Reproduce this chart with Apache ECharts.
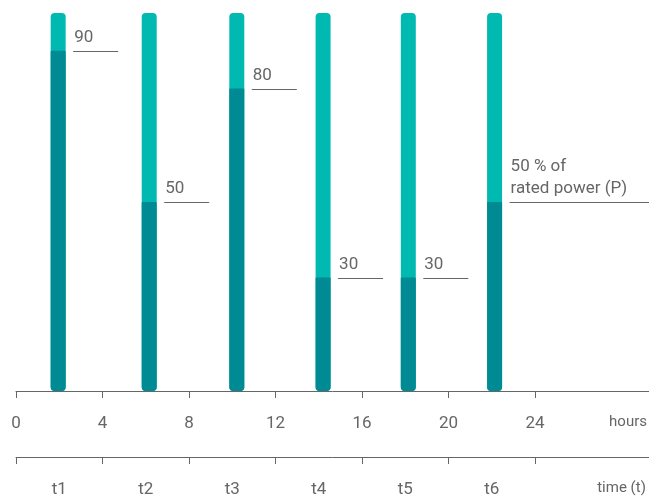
<!DOCTYPE html>
<html>
<head>
<meta charset="utf-8">
<script src="https://cdn.jsdelivr.net/npm/echarts@6/dist/echarts.min.js"></script>
<style>html,body{margin:0;padding:0;background:#fff;}#c{width:649px;height:496px;}</style>
</head>
<body>
<div id="c"></div>
<script>
// Data
const barHours = [1.95, 6.16, 10.21, 14.2, 18.14, 22.13];
const powerValues = [90, 50, 80, 30, 30, 50];
const ratedValue = 100;
const annotationTexts = ['90', '50', '80', '30', '30', '50 % of\nrated power (P)'];
const hourTicks = [0, 4, 8, 12, 16, 20, 24];
const periodLabels = ['t1', 't2', 't3', 't4', 't5', 't6'];
const periodCenters = [2, 6, 10, 14, 18, 22];
const hoursUnitPos = 28.3;
const timeUnitPos = 28.0;

const FONT = 'Roboto, "Noto Sans", sans-serif';
const LIGHT = '#00b9b0';
const DARK = '#008a93';
const GRAY = '#666666';

const chart = echarts.init(document.getElementById('c'), null, {renderer: 'canvas'});

const annData = barHours.map((h, i) => [h, powerValues[i], annotationTexts[i], i === barHours.length - 1 ? 1 : 0]);

chart.setOption({
  animation: false,
  grid: [
    {left: 16, right: 0, top: 13, height: 378, containLabel: false, outerBoundsMode: 'none'},
    {left: 16, right: 0, top: 400, height: 57, containLabel: false, outerBoundsMode: 'none'}
  ],
  xAxis: [
    {
      type: 'value', gridIndex: 0, min: 0, max: 29.27,
      splitLine: {show: false},
      axisLine: {show: true, lineStyle: {color: GRAY, width: 1}},
      axisTick: {show: true, customValues: hourTicks, length: 7, inside: false, lineStyle: {color: GRAY}},
      axisLabel: {
        customValues: hourTicks.concat([hoursUnitPos]),
        margin: 24, color: GRAY, fontSize: 17, fontFamily: FONT,
        formatter: v => v > 25 ? '{u|hours}' : String(v),
        rich: {u: {fontSize: 15, color: GRAY, fontFamily: FONT}}
      }
    },
    {
      type: 'value', gridIndex: 1, min: 0, max: 29.27,
      splitLine: {show: false},
      axisLine: {show: true, lineStyle: {color: GRAY, width: 1}},
      axisTick: {show: true, customValues: hourTicks, length: 7, lineStyle: {color: GRAY}},
      axisLabel: {
        customValues: periodCenters.concat([timeUnitPos]),
        margin: 24, color: GRAY, fontSize: 17, fontFamily: FONT,
        formatter: v => {
          if (v > 25) return '{u|time (t)}';
          const i = periodCenters.indexOf(v);
          return i >= 0 ? periodLabels[i] : '';
        },
        rich: {u: {fontSize: 15, color: GRAY, fontFamily: FONT}}
      }
    }
  ],
  yAxis: [
    {type: 'value', gridIndex: 0, min: 0, max: 100, show: false},
    {type: 'value', gridIndex: 1, min: 0, max: 1, show: false}
  ],
  series: [
    {
      type: 'bar', xAxisIndex: 0, yAxisIndex: 0,
      barWidth: 15, barGap: '-100%',
      data: barHours.map(h => [h, ratedValue]),
      itemStyle: {color: LIGHT, borderRadius: 4},
      z: 1
    },
    {
      type: 'bar', xAxisIndex: 0, yAxisIndex: 0,
      barWidth: 15, barGap: '-100%',
      data: barHours.map((h, i) => [h, powerValues[i]]),
      itemStyle: {color: DARK, borderRadius: [1, 1, 4, 4]},
      z: 2
    },
    {
      type: 'custom', xAxisIndex: 0, yAxisIndex: 0,
      data: annData,
      z: 3,
      renderItem: function (params, api) {
        const p = api.coord([api.value(0), api.value(1)]);
        const cs = params.coordSys;
        const x0 = p[0] + 15;
        const x1 = api.value(3) ? cs.x + cs.width : x0 + 45;
        const y = Math.round(p[1]) + 0.5;
        return {
          type: 'group',
          children: [
            {type: 'line', shape: {x1: x0, y1: y, x2: x1, y2: y}, style: {stroke: GRAY, lineWidth: 1}},
            {type: 'text', style: {
              x: x0 + 1, y: y - 3, text: annData[params.dataIndex][2],
              fill: GRAY, font: '17px ' + FONT, textAlign: 'left', textVerticalAlign: 'bottom',
              lineHeight: 22
            }}
          ]
        };
      }
    }
  ]
});
</script>
</body>
</html>
